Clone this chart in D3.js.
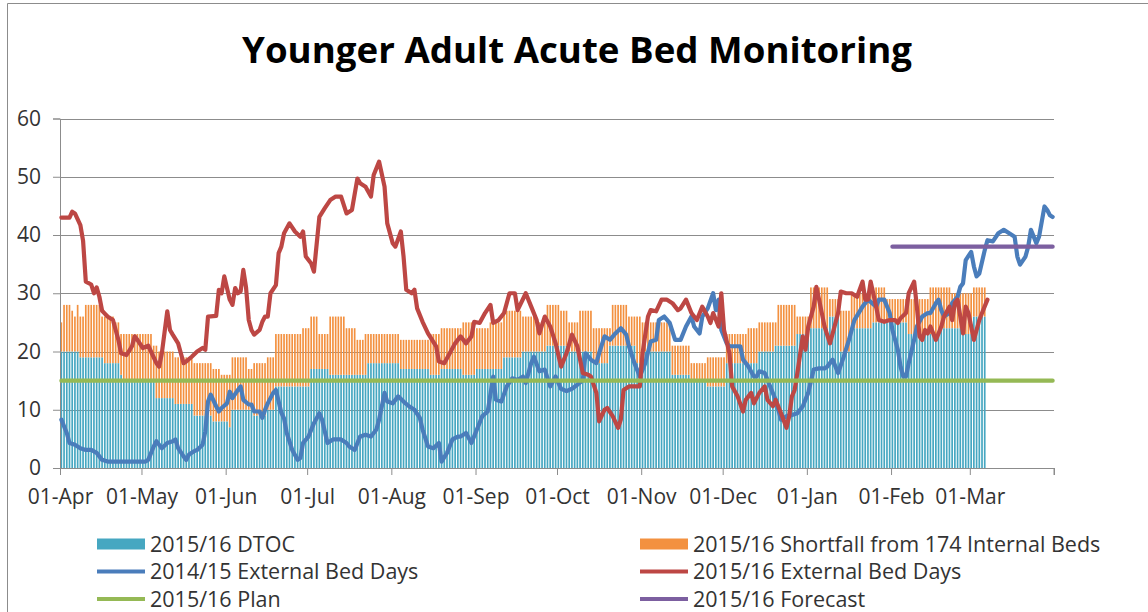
<!DOCTYPE html>
<meta charset="utf-8">
<style>
body { margin: 0; background: #fff; }
text { font-family: "Open Sans", sans-serif; fill: #333; }
.title { font-weight: bold; fill: #000; }
</style>
<body>
<svg width="1148" height="612"></svg>
<script src="https://d3js.org/d3.v7.min.js"></script>
<script>

// day 0 = 01-Apr-2015
var dtoc = [
  20,20,20,20,20,20,20,19,19,19,19,19,19,19,19,19,18,18,18,18,18,18,16,15,15,15,15,15,15,15,
  15,15,15,15,15,12,12,12,12,12,12,12,11,11,11,11,11,11,11,9,9,9,9,9,9,9,8,8,8,8,8,
  8,7,10,10,10,10,10,10,10,10,9,9,9,9,9,10,10,10,14,14,14,14,14,14,14,14,14,14,14,14,
  14,17,17,17,17,17,17,17,16,16,16,16,16,16,16,16,16,16,16,16,16,16,18,18,18,18,18,18,18,18,18,
  18,18,18,17,17,17,17,17,17,17,17,17,17,17,16,16,16,16,17,17,17,17,17,17,17,17,16,16,16,16,16,
  17,17,17,17,17,17,17,17,17,17,19,19,19,19,19,19,19,20,20,20,20,20,20,20,20,20,21,21,21,21,
  21,21,21,21,20,20,20,20,20,20,20,20,20,18,18,18,18,18,18,21,21,21,21,21,21,21,21,21,21,18,18,
  18,20,20,20,20,20,20,20,20,20,20,16,16,16,16,16,16,16,15,15,15,15,15,15,14,14,14,14,14,14,
  14,18,18,18,18,18,18,18,18,18,18,18,18,20,20,20,20,20,20,21,21,21,21,21,21,21,21,23,23,23,23,
  23,24,24,24,24,24,24,24,26,26,26,26,20,20,20,20,24,24,24,24,24,24,24,24,25,25,25,25,25,25,25,
  25,25,25,25,25,25,23,23,23,23,23,23,23,23,23,23,23,23,24,24,24,24,24,24,24,24,23,23,23,
  23,26,26,26,26,26
];

var shortfall = [
  5,8,8,8,7,6,8,7,7,9,9,9,9,9,9,7,8,8,8,8,7,7,7,8,8,8,8,8,8,8,
  8,8,8,8,6,9,8,8,8,8,8,8,8,8,8,8,8,8,8,9,9,9,9,9,9,9,9,9,9,8,8,
  8,9,9,9,9,9,9,9,7,7,9,9,9,9,9,9,9,9,9,9,9,9,9,9,9,9,9,9,10,10,
  10,9,9,9,6,6,6,6,10,10,10,10,10,10,8,8,8,8,6,6,6,7,5,5,5,5,5,5,5,5,5,
  5,5,5,5,5,5,5,5,5,5,5,5,5,5,7,7,7,7,7,7,7,7,7,7,7,7,9,9,9,9,9,
  7,7,7,7,7,8,8,8,8,8,8,8,8,8,8,8,8,6,6,6,6,6,5,5,5,5,7,7,7,7,
  7,6,6,6,5,5,5,5,7,7,7,7,7,6,6,6,6,6,6,3,7,7,7,7,7,7,5,5,5,8,8,
  7,5,5,5,5,5,5,5,5,5,5,5,5,5,5,5,5,5,3,3,3,3,3,3,5,5,5,5,5,5,
  5,5,5,5,5,5,5,5,5,6,6,6,6,5,5,5,5,5,5,4,7,7,7,7,7,7,7,3,3,3,3,
  3,7,7,7,7,7,7,7,3,3,3,3,7,7,7,7,6,6,6,6,6,6,6,6,6,6,6,6,6,4,4,
  4,4,4,4,4,4,6,6,6,6,6,6,6,6,8,8,8,8,7,7,7,7,6,6,6,6,7,7,7,
  7,5,5,5,5,5
];

// [day, value]
var ext1415 = [
  [0,8.3],[2,6],[3,4.3],[5,4],[7,3.4],[9,3.1],[11,3.1],[13,2.6],[15,1.4],[17,1.1],[31,1.1],[32,1.4],
  [34,3.7],[35,4.6],[37,3.4],[39,4.3],[41,4.6],[42,4.9],[43,3.4],[45,2],[46,1.4],[47,2.3],[49,2.9],
  [50,3.1],[52,4],[53,6.3],[54,11.4],[55,12.6],[57,10.6],[58,9.7],[59,10.3],[61,11.1],[62,13.1],
  [63,12],[65,13.4],[66,14],[67,11.7],[69,10.9],[70,10.9],[71,9.7],[73,9.7],[74,8.6],[75,10],
  [76,11.1],[78,12.9],[79,13.4],[81,9.5],[82,8.5],[83,6],[85,3.1],[87,1.4],[88,1.7],[89,4.3],
  [91,5.4],[93,7.7],[95,9.4],[96,8.3],[98,4.3],[100,4.9],[103,4.9],[105,4.3],[106,3.7],[108,3.1],
  [110,5.4],[112,5.7],[114,5.4],[116,6.6],[117,8.3],[119,12.9],[120,11.4],[122,11.1],[124,12.3],
  [126,11.4],[128,10.6],[130,10],[132,8.6],[133,6.6],[135,3.7],[137,3.4],[139,4.3],[140,1.1],
  [142,2.6],[144,4.9],[146,5.4],[147,5.4],[149,6],[151,4.3],[153,6.6],[155,8.9],[157,9.7],
  [159,15.7],[160,11.7],[162,11.4],[164,14],[166,15.4],[168,15.1],[170,15.7],[171,14.6],[173,18],
  [174,19.1],[176,16.6],[178,16.9],[180,14],[182,15.7],[184,13.6],[186,13.2],[188,13.6],[190,14.3],
  [192,15.1],[193,19.7],[195,18.6],[197,18],[198,19.7],[200,22.6],[202,22],[204,23.1],[206,24],
  [208,22.9],[209,20.9],[211,18],[213,15.7],[215,18],[217,21.7],[219,22],[220,25.4],[222,26],
  [224,24.9],[226,22],[228,22],[230,24.3],[232,26],[233,24.3],[235,23.1],[236,26],[238,27.4],
  [240,30],[241,27.1],[242,28.9],[243,23.7],[245,21.4],[246,20.9],[248,20.9],[250,20.9],[251,18.6],
  [253,17.4],[255,15.7],[256,15.7],[257,16.6],[259,16.3],[261,14],[263,11.7],[265,8.3],[267,8.9],
  [269,9.1],[271,9.4],[273,10.6],[275,12.9],[277,16.9],[279,17.1],[281,17.1],[282,17.4],[284,18.6],
  [286,16.3],[288,19],[290,22],[292,25.4],[295,27.7],[297,28.9],[300,27.7],[301,28.9],[303,28.9],
  [305,26.6],[306,23.7],[308,20.3],[309,17.4],[310,15.7],[311,15.7],[312,18],[314,22],[315,24.3],
  [317,26],[319,26.6],[320,26.6],[322,28.3],[323,28.9],[324,27.1],[325,26],[327,26.6],[328,28.3],
  [330,29.4],[331,31.1],[332,31.7],[333,35.7],[335,37.1],[336,34.6],[337,32.9],[338,33.4],[340,37.4],
  [341,39.1],[343,38.9],[345,40.3],[347,40.9],[349,40.3],[351,39.7],[352,36.3],[353,34.9],[355,36.3],
  [356,38],[357,40.9],[359,38.6],[360,39.7],[362,44.9],[363,44.3],[364,43.4],[365,43.1]
];

var ext1516 = [
  [0,43],[3,43],[4,44],[5,43.7],[7,41.7],[8,39],[9,32],[11,31.5],[12,30],[13,31],[14,29.4],[15,27],
  [16,26.5],[17,26],[19,25.4],[20,23.7],[21,22],[22,19.7],[24,19.4],[26,20.9],[27,22.6],[28,22],
  [30,20.6],[32,21],[33,20],[35,18],[36,17.4],[37,19.7],[39,26.9],[40,23.7],[41,22.9],[43,21.4],
  [44,19.7],[45,18],[46,18.3],[48,19.1],[50,20],[52,20.6],[53,20.3],[54,26],[57,26.1],[58,30.6],
  [59,30],[60,32.9],[62,28.9],[63,28],[64,30.9],[65,30],[66,30.3],[67,34],[68,31],[69,25.4],
  [70,23.7],[71,22.9],[73,23.7],[74,25.1],[75,26],[76,26],[77,30],[79,31.4],[80,36.9],[81,38],
  [82,40.3],[84,42],[86,40.6],[88,39.7],[89,40.6],[90,36.3],[92,35.1],[93,33.7],[95,43.1],[97,44.6],
  [99,46],[101,46.6],[103,46.6],[105,43.7],[107,44.3],[109,49.7],[110,48.9],[112,48.3],[114,46.6],
  [115,50.3],[117,52.6],[119,48.3],[120,42],[122,38.6],[123,38],[125,40.6],[126,36.3],[127,30.6],
  [129,30],[130,30.6],[131,27.4],[133,25.1],[135,23.1],[138,20.9],[139,18.3],[141,18],[143,19.7],
  [145,21.4],[147,22.6],[149,21.4],[151,22.6],[152,25.1],[154,24.9],[156,26.6],[158,28],[159,24.9],
  [161,25.4],[163,26.6],[165,30],[167,30],[168,27.1],[171,30],[173,27.7],[175,25.4],[176,23.1],
  [178,26],[180,24.3],[182,21.4],[184,17.4],[186,19.7],[188,22.9],[190,20.9],[192,16.3],[194,16],
  [195,15.7],[197,12.9],[198,8],[200,10],[201,10.3],[203,8.9],[205,6.9],[206,8.3],[207,13.4],
  [209,14],[211,14],[213,14],[214,19.7],[216,26],[217,27.1],[219,26.9],[221,28.9],[223,28.9],
  [225,28.3],[227,27.1],[228,27.4],[230,28.9],[232,26.6],[234,25.4],[236,27.7],[238,26],[239,24.9],
  [240,26.6],[242,24.3],[243,30],[244,23.7],[246,19.7],[247,14],[249,12.3],[251,9.7],[252,11.7],
  [254,12.9],[255,11.1],[257,12.9],[259,14],[260,11.7],[262,10.6],[263,11.7],[265,9.4],[267,6.9],
  [268,8.9],[269,12.3],[270,13.4],[271,16.3],[273,22.6],[274,20.3],[275,24.3],[277,27.7],[278,31.1],
  [279,28.9],[281,24.3],[283,21.4],[284,23.1],[286,26.6],[287,30.3],[289,30],[291,30],[293,29.4],
  [295,32],[296,28.9],[297,28.9],[298,32],[300,27.7],[301,25.4],[303,25.1],[305,25.4],[307,25.4],
  [308,24.9],[309,25.7],[311,26.6],[312,30],[314,32],[315,27.7],[316,22.6],[317,22],[318,23.7],
  [319,23.1],[320,24.3],[322,22],[323,23.1],[324,24.3],[325,26],[327,27.7],[328,25.4],[329,28.3],
  [330,28.9],[332,23.1],[333,27.7],[334,26.6],[335,24.3],[336,22],[338,25.4],[339,26.6],[341,28.9]
];

var plan = [[0,15],[365,15]];
var forecast = [[306,38],[365,38]];

var yTicks = [0, 10, 20, 30, 40, 50, 60];

var legendItems = [
  {name: "2015/16 DTOC", color: "#46a7c1", type: "bar"},
  {name: "2015/16 Shortfall from 174 Internal Beds", color: "#f39140", type: "bar"},
  {name: "2014/15 External Bed Days", color: "#4a7dbb", type: "line"},
  {name: "2015/16 External Bed Days", color: "#bd4744", type: "line"},
  {name: "2015/16 Plan", color: "#95b955", type: "line"},
  {name: "2015/16 Forecast", color: "#7c5fa0", type: "line"}
];

var svg = d3.select("svg");
var start = new Date(2015, 3, 1), end = new Date(2016, 3, 1);
var day = function(d) { return d3.timeDay.offset(start, d); };

var x = d3.scaleTime().domain([start, end]).range([60, 1054]);
var y = d3.scaleLinear().domain([0, 60]).range([468, 118.5]);
var slot = x(day(1)) - x(day(0));

// frame
svg.append("path")
    .attr("d", "M7.5,612V3.5H1148")
    .attr("fill", "none")
    .attr("stroke", "#8c8c8c");

svg.append("text")
    .attr("class", "title")
    .attr("x", 577)
    .attr("y", 63)
    .attr("text-anchor", "middle")
    .attr("font-size", 36)
    .attr("textLength", 670)
    .attr("lengthAdjust", "spacingAndGlyphs")
    .text("Younger Adult Acute Bed Monitoring");

// gridlines
svg.append("g").selectAll("line")
  .data(yTicks.slice(1))
  .enter().append("line")
    .attr("x1", 60).attr("x2", 1054)
    .attr("y1", function(d) { return Math.round(y(d)) + 0.5; })
    .attr("y2", function(d) { return Math.round(y(d)) + 0.5; })
    .attr("stroke", "#8c8c8c");

// stacked bars
var bars = svg.append("g");
bars.selectAll(".dtoc")
  .data(dtoc)
  .enter().append("rect")
    .attr("x", function(d, i) { return x(day(i)) + 0.5; })
    .attr("width", slot * 0.62)
    .attr("y", function(d) { return y(d); })
    .attr("height", function(d) { return y(0) - y(d); })
    .attr("fill", legendItems[0].color);

bars.selectAll(".short")
  .data(shortfall)
  .enter().append("rect")
    .attr("x", function(d, i) { return x(day(i)) + 0.5; })
    .attr("width", slot * 0.62)
    .attr("y", function(d, i) { return y(dtoc[i] + d); })
    .attr("height", function(d, i) { return y(dtoc[i]) - y(dtoc[i] + d); })
    .attr("fill", legendItems[1].color);

// axes
var yAxis = svg.append("g").attr("transform", "translate(60,0)")
    .call(d3.axisLeft(y).tickValues(yTicks).tickSize(7).tickPadding(12).tickFormat(d3.format("d")));
var xAxis = svg.append("g").attr("transform", "translate(0,468)")
    .call(d3.axisBottom(x).ticks(d3.timeMonth.every(1)).tickSize(7).tickPadding(14)
      .tickFormat(function(d) { return d < end ? d3.timeFormat("%d-%b")(d) : ""; }));

[yAxis, xAxis].forEach(function(a) {
  a.selectAll("path, line").attr("stroke", "#8c8c8c");
  a.selectAll("text").attr("font-size", 21).attr("fill", "#333")
    .style("font-family", "'Open Sans', sans-serif");
});
xAxis.select(".domain").attr("d", "M60,0.5H1054V7");

// lines
var line = d3.line()
    .x(function(d) { return x(day(d[0])) + slot / 2; })
    .y(function(d) { return y(d[1]); });

[[ext1415, 2], [ext1516, 3], [plan, 4], [forecast, 5]]
  .forEach(function(s) {
    svg.append("path")
        .datum(s[0])
        .attr("d", line)
        .attr("fill", "none")
        .attr("stroke", legendItems[s[1]].color)
        .attr("stroke-width", 4.2)
        .attr("stroke-linejoin", "round")
        .attr("stroke-linecap", "round");
  });

// legend
var legend = svg.append("g").selectAll("g")
  .data(legendItems)
  .enter().append("g")
    .attr("transform", function(d, i) {
      return "translate(" + (i % 2 ? 640 : 97) + "," + (544 + Math.floor(i / 2) * 27.5) + ")";
    });

legend.filter(function(d) { return d.type === "bar"; }).append("rect")
    .attr("y", -5.5).attr("width", 48).attr("height", 11)
    .attr("fill", function(d) { return d.color; });

legend.filter(function(d) { return d.type === "line"; }).append("line")
    .attr("x2", 48)
    .attr("stroke", function(d) { return d.color; })
    .attr("stroke-width", 4);

legend.append("text")
    .attr("x", 53)
    .attr("dy", "0.35em")
    .attr("font-size", 21.5)
    .text(function(d) { return d.name; });

</script>
</body>
